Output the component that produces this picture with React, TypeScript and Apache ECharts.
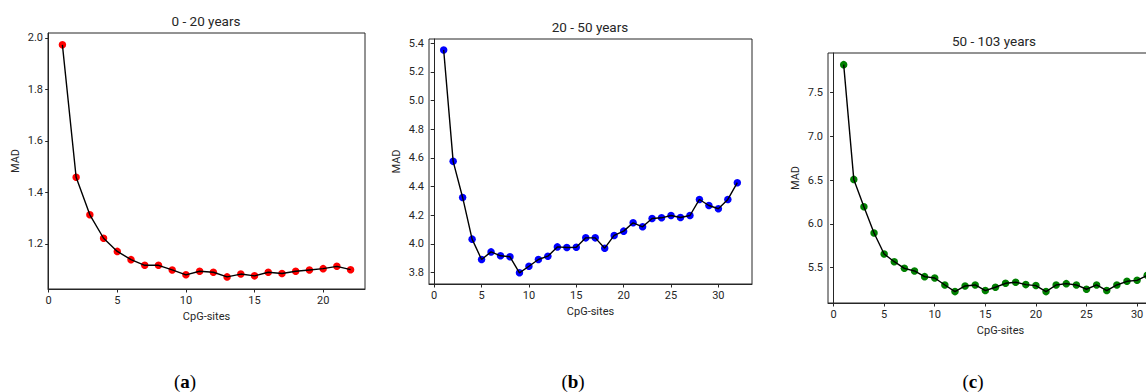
import React, { useEffect, useRef } from "react";
import * as echarts from "echarts";

const sitesA = [1, 2, 3, 4, 5, 6, 7, 8, 9, 10, 11, 12, 13, 14, 15, 16, 17, 18, 19, 20, 21, 22];
const madA = [1.973, 1.459, 1.313, 1.222, 1.171, 1.139, 1.117, 1.117, 1.099, 1.080, 1.094, 1.090, 1.072, 1.083, 1.076, 1.090, 1.085, 1.094, 1.099, 1.104, 1.113, 1.100];

const sitesB = [1, 2, 3, 4, 5, 6, 7, 8, 9, 10, 11, 12, 13, 14, 15, 16, 17, 18, 19, 20, 21, 22, 23, 24, 25, 26, 27, 28, 29, 30, 31, 32];
const madB = [5.353, 4.576, 4.324, 4.033, 3.891, 3.944, 3.917, 3.910, 3.798, 3.844, 3.891, 3.914, 3.979, 3.975, 3.977, 4.042, 4.042, 3.970, 4.059, 4.089, 4.147, 4.119, 4.177, 4.182, 4.198, 4.184, 4.198, 4.310, 4.268, 4.245, 4.310, 4.427];

const sitesC = [1, 2, 3, 4, 5, 6, 7, 8, 9, 10, 11, 12, 13, 14, 15, 16, 17, 18, 19, 20, 21, 22, 23, 24, 25, 26, 27, 28, 29, 30, 31, 32];
const madC = [7.819, 6.508, 6.196, 5.895, 5.656, 5.568, 5.492, 5.462, 5.397, 5.382, 5.302, 5.226, 5.291, 5.302, 5.238, 5.276, 5.321, 5.333, 5.306, 5.295, 5.226, 5.302, 5.317, 5.302, 5.253, 5.302, 5.238, 5.302, 5.344, 5.355, 5.413, 5.45];

const titles = ["0 - 20 years", "20 - 50 years", "50 - 103 years"];
const panelLabels = ["a", "b", "c"];
const xTicksA = [0, 5, 10, 15, 20];
const xTicksBC = [0, 5, 10, 15, 20, 25, 30];
const yTicksA = [1.2, 1.4, 1.6, 1.8, 2.0];
const yTicksB = [3.8, 4.0, 4.2, 4.4, 4.6, 4.8, 5.0, 5.2, 5.4];
const yTicksC = [5.5, 6.0, 6.5, 7.0, 7.5];
const colors = ["#ff0000", "#0000ff", "#008000"];

const FONT = "Roboto";
const AX = "#262626";

function xAxisDef(gridIndex: number, min: number, max: number, ticks: number[]) {
  return {
    type: "value",
    gridIndex,
    min,
    max,
    name: "CpG-sites",
    nameLocation: "middle",
    nameGap: 22,
    nameTextStyle: { fontFamily: FONT, fontSize: 11, color: AX },
    axisLine: { show: true, lineStyle: { color: AX, width: 1 } },
    axisTick: { show: true, inside: false, length: 3.5, lineStyle: { color: AX }, customValues: ticks },
    axisLabel: { show: true, margin: 6, fontFamily: FONT, fontSize: 11, color: AX, customValues: ticks, formatter: (v: number) => String(v) },
    splitLine: { show: false },
  };
}

function yAxisDef(gridIndex: number, min: number, max: number, ticks: number[]) {
  return {
    type: "value",
    gridIndex,
    min,
    max,
    name: "MAD",
    nameLocation: "middle",
    nameGap: 27,
    nameTextStyle: { fontFamily: FONT, fontSize: 11, color: AX },
    axisLine: { show: true, lineStyle: { color: AX, width: 1 } },
    axisTick: { show: true, inside: false, length: 3.5, lineStyle: { color: AX }, customValues: ticks },
    axisLabel: { show: true, margin: 5, fontFamily: FONT, fontSize: 11, color: AX, customValues: ticks, formatter: (v: number) => v.toFixed(1) },
    splitLine: { show: false },
  };
}

function pairs(xs: number[], ys: number[]) {
  return xs.map((x, i) => [x, ys[i]]);
}

export default function App() {
  const ref = useRef<HTMLDivElement>(null);
  useEffect(() => {
    if (!ref.current) return;
    const chart = echarts.init(ref.current, null, { renderer: "svg" });
    const data = [pairs(sitesA, madA), pairs(sitesB, madB), pairs(sitesC, madC)];
    const series: any[] = [];
    data.forEach((d, i) => {
      series.push({
        type: "scatter",
        xAxisIndex: i,
        yAxisIndex: i,
        data: d,
        symbol: "circle",
        symbolSize: 7.5,
        itemStyle: { color: colors[i], opacity: 1 },
        z: 2,
      });
      series.push({
        type: "line",
        xAxisIndex: i,
        yAxisIndex: i,
        data: d,
        showSymbol: false,
        symbol: "none",
        lineStyle: { color: "#000000", width: 1.4 },
        z: 3,
      });
    });
    const titleCenters = [
      { x: 206, top: 14 },
      { x: 590, top: 20 },
      { x: 994, top: 34 },
    ];
    const labelCenters = [185, 573, 973];
    chart.setOption({
      animation: false,
      backgroundColor: "#ffffff",
      title: titles.map((t, i) => ({
        text: t,
        left: titleCenters[i].x,
        top: titleCenters[i].top,
        textAlign: "center",
        padding: 0,
        textStyle: { fontFamily: FONT, fontSize: 13.5, fontWeight: "normal", color: AX },
      })),
      grid: [
        { left: 48, top: 33, width: 317, height: 256, show: true, borderColor: AX, borderWidth: 1, backgroundColor: "transparent" },
        { left: 429, top: 39, width: 323, height: 245, show: true, borderColor: AX, borderWidth: 1, backgroundColor: "transparent" },
        { left: 828, top: 53, width: 345, height: 250, show: true, borderColor: AX, borderWidth: 1, backgroundColor: "transparent" },
      ],
      xAxis: [
        xAxisDef(0, -0.05, 23.05, xTicksA),
        xAxisDef(1, -0.55, 33.55, xTicksBC),
        xAxisDef(2, -0.55, 33.55, xTicksBC),
      ],
      yAxis: [
        yAxisDef(0, 1.025, 2.019, yTicksA),
        yAxisDef(1, 3.72, 5.43, yTicksB),
        yAxisDef(2, 5.096, 7.952, yTicksC),
      ],
      series,
      graphic: panelLabels.map((l, i) => ({
        type: "text",
        x: labelCenters[i],
        y: 381,
        style: {
          text: "(" + "{b|" + l + "})",
          x: 0,
          y: 0,
          align: "center",
          verticalAlign: "middle",
          fontFamily: "Liberation Serif",
          fontSize: 19,
          fill: "#000000",
          rich: {
            b: { fontFamily: "Liberation Serif", fontSize: 19, fontWeight: "bold", fill: "#000000" },
          },
        },
      })),
    });
    return () => chart.dispose();
  }, []);
  return (
    <div
      ref={ref}
      style={{ position: "fixed", left: 0, top: 0, width: 1200, height: 392, background: "#ffffff" }}
    />
  );
}
